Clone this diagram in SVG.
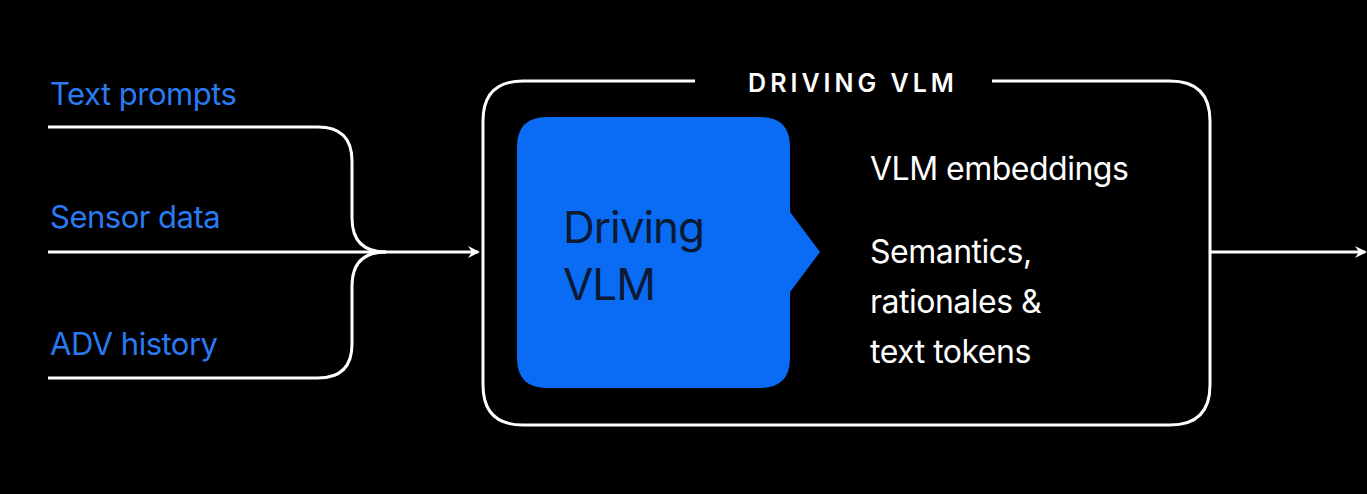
<svg xmlns="http://www.w3.org/2000/svg" width="1367" height="494" viewBox="0 0 1367 494">
<style>
.ln{fill:none;stroke:#fff;stroke-width:3}
.lbl{font-family:Inter,"Liberation Sans",sans-serif;font-size:31px;fill:#2a7af2;letter-spacing:-0.5px}
.wt{font-family:Inter,"Liberation Sans",sans-serif;font-size:32px;fill:#fff;letter-spacing:-0.5px}
</style>
<defs><marker id="ah" markerWidth="12" markerHeight="12" refX="10" refY="6" orient="auto" markerUnits="userSpaceOnUse"><path d="M0,0 L12,6 L0,12 L4,6 Z" fill="#fff"/></marker></defs>
<rect width="1367" height="494" fill="#000"/>
<g id="inputs">
<text class="lbl" x="50" y="105">Text prompts</text>
<text class="lbl" x="50" y="228">Sensor data</text>
<text class="lbl" x="50" y="355">ADV history</text>
</g>
<g id="connectors">
<path class="ln" d="M48,127 H318 Q352,127 352,161 V218 Q352,252 386,252"/>
<path class="ln" d="M48,378 H318 Q352,378 352,344 V286 Q352,252 386,252"/>
<path class="ln" d="M48,252 H478" marker-end="url(#ah)"/>
<path class="ln" d="M1210,252 H1365" marker-end="url(#ah)"/>
</g>
<g id="outer">
<path class="ln" d="M695,81 H523 Q483,81 483,121 V385 Q483,425 523,425 H1170 Q1210,425 1210,385 V121 Q1210,81 1170,81 H992"/>
<text x="853" y="92" text-anchor="middle" font-family="Inter,'Liberation Sans',sans-serif" font-size="25" font-weight="600" fill="#fff" letter-spacing="4">DRIVING VLM</text>
</g>
<g id="vlm">
<path d="M547,117 H760 Q790,117 790,147 V212 L820,252 L790,292 V358 Q790,388 760,388 H547 Q517,388 517,358 V147 Q517,117 547,117 Z" fill="#0a6cf5"/>
<text x="563" y="243" font-family="Inter,'Liberation Sans',sans-serif" font-size="44" fill="#0b1a33" letter-spacing="-1">Driving</text>
<text x="563" y="300" font-family="Inter,'Liberation Sans',sans-serif" font-size="44" fill="#0b1a33" letter-spacing="-1">VLM</text>
</g>
<g id="outputs">
<text class="wt" x="870" y="180">VLM embeddings</text>
<text class="wt" x="870" y="263">Semantics,</text>
<text class="wt" x="870" y="313">rationales &amp;</text>
<text class="wt" x="870" y="363">text tokens</text>
</g>
</svg>
